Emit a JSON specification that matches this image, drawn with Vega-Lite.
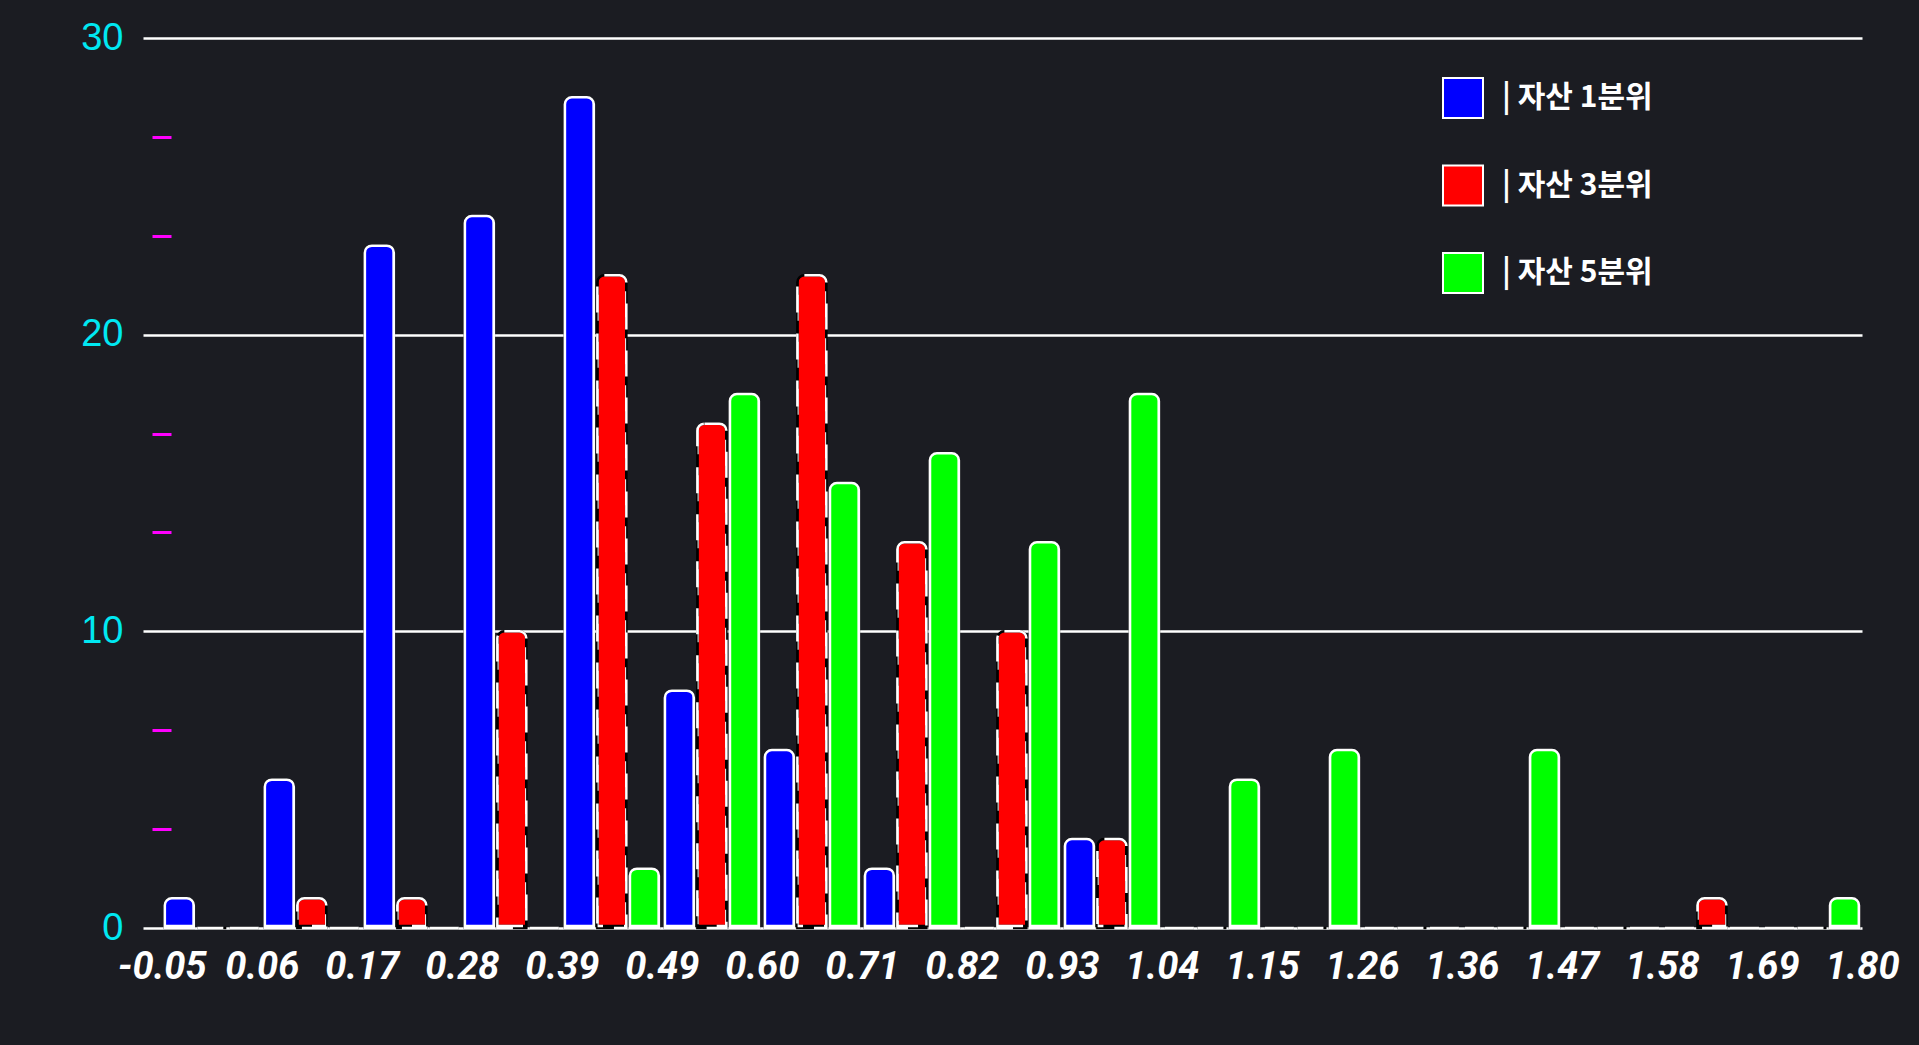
{
  "$schema": "https://vega.github.io/schema/vega-lite/v6.json",
  "width": 1719,
  "height": 890,
  "autosize": {"type": "none"},
  "padding": {"left": 143, "top": 38, "right": 57, "bottom": 117},
  "background": "#1b1c22",
  "config": {
    "view": {"stroke": null},
    "legend": {
      "labelFont": "Noto Sans CJK KR",
      "labelFontSize": 30,
      "labelFontWeight": "bold",
      "labelColor": "white",
      "symbolType": "square",
      "symbolSize": 1600,
      "symbolStrokeColor": "white",
      "symbolStrokeWidth": 2,
      "symbolOpacity": 1,
      "rowPadding": 39.5,
      "labelOffset": 18,
      "padding": 0
    }
  },
  "data": {
    "values": [
      {"edge": -0.05, "series": "| 자산 1분위", "count": 1},
      {"edge": -0.05, "series": "| 자산 3분위", "count": 0},
      {"edge": -0.05, "series": "| 자산 5분위", "count": 0},
      {"edge": 0.0588, "series": "| 자산 1분위", "count": 5},
      {"edge": 0.0588, "series": "| 자산 3분위", "count": 1},
      {"edge": 0.0588, "series": "| 자산 5분위", "count": 0},
      {"edge": 0.1676, "series": "| 자산 1분위", "count": 23},
      {"edge": 0.1676, "series": "| 자산 3분위", "count": 1},
      {"edge": 0.1676, "series": "| 자산 5분위", "count": 0},
      {"edge": 0.2765, "series": "| 자산 1분위", "count": 24},
      {"edge": 0.2765, "series": "| 자산 3분위", "count": 10},
      {"edge": 0.2765, "series": "| 자산 5분위", "count": 0},
      {"edge": 0.3853, "series": "| 자산 1분위", "count": 28},
      {"edge": 0.3853, "series": "| 자산 3분위", "count": 22},
      {"edge": 0.3853, "series": "| 자산 5분위", "count": 2},
      {"edge": 0.4941, "series": "| 자산 1분위", "count": 8},
      {"edge": 0.4941, "series": "| 자산 3분위", "count": 17},
      {"edge": 0.4941, "series": "| 자산 5분위", "count": 18},
      {"edge": 0.6029, "series": "| 자산 1분위", "count": 6},
      {"edge": 0.6029, "series": "| 자산 3분위", "count": 22},
      {"edge": 0.6029, "series": "| 자산 5분위", "count": 15},
      {"edge": 0.7118, "series": "| 자산 1분위", "count": 2},
      {"edge": 0.7118, "series": "| 자산 3분위", "count": 13},
      {"edge": 0.7118, "series": "| 자산 5분위", "count": 16},
      {"edge": 0.8206, "series": "| 자산 1분위", "count": 0},
      {"edge": 0.8206, "series": "| 자산 3분위", "count": 10},
      {"edge": 0.8206, "series": "| 자산 5분위", "count": 13},
      {"edge": 0.9294, "series": "| 자산 1분위", "count": 3},
      {"edge": 0.9294, "series": "| 자산 3분위", "count": 3},
      {"edge": 0.9294, "series": "| 자산 5분위", "count": 18},
      {"edge": 1.0382, "series": "| 자산 1분위", "count": 0},
      {"edge": 1.0382, "series": "| 자산 3분위", "count": 0},
      {"edge": 1.0382, "series": "| 자산 5분위", "count": 5},
      {"edge": 1.1471, "series": "| 자산 1분위", "count": 0},
      {"edge": 1.1471, "series": "| 자산 3분위", "count": 0},
      {"edge": 1.1471, "series": "| 자산 5분위", "count": 6},
      {"edge": 1.2559, "series": "| 자산 1분위", "count": 0},
      {"edge": 1.2559, "series": "| 자산 3분위", "count": 0},
      {"edge": 1.2559, "series": "| 자산 5분위", "count": 0},
      {"edge": 1.3647, "series": "| 자산 1분위", "count": 0},
      {"edge": 1.3647, "series": "| 자산 3분위", "count": 0},
      {"edge": 1.3647, "series": "| 자산 5분위", "count": 6},
      {"edge": 1.4735, "series": "| 자산 1분위", "count": 0},
      {"edge": 1.4735, "series": "| 자산 3분위", "count": 0},
      {"edge": 1.4735, "series": "| 자산 5분위", "count": 0},
      {"edge": 1.5824, "series": "| 자산 1분위", "count": 0},
      {"edge": 1.5824, "series": "| 자산 3분위", "count": 1},
      {"edge": 1.5824, "series": "| 자산 5분위", "count": 0},
      {"edge": 1.6912, "series": "| 자산 1분위", "count": 0},
      {"edge": 1.6912, "series": "| 자산 3분위", "count": 0},
      {"edge": 1.6912, "series": "| 자산 5분위", "count": 1}
    ]
  },
  "layer": [
    {
      "mark": {"type": "point", "opacity": 0},
      "encoding": {
        "x": {"field": "edge", "type": "quantitative",
              "scale": {"domain": [-0.0705, 1.8], "nice": false, "zero": false},
              "axis": {"values": [-0.05, 0.0588, 0.1676, 0.2765, 0.3853, 0.4941, 0.6029, 0.7118, 0.8206, 0.9294, 1.0382, 1.1471, 1.2559, 1.3647, 1.4735, 1.5824, 1.6912, 1.8],
                       "labelExpr": "replace(format(datum.value, '.2f'), '\u2212', '-')",
                       "labelFont": "Roboto", "labelFontSize": 38, "labelFontWeight": "bold", "labelFontStyle": "italic",
                       "labelColor": "white", "domain": false, "ticks": false, "grid": false, "labelPadding": 20,
                       "labelFlush": false, "labelOverlap": false, "title": null}},
        "y": {"field": "count", "type": "quantitative", "scale": {"domain": [0, 30], "nice": false},
              "axis": {"orient": "left", "values": [0, 10, 20, 30], "grid": true, "gridColor": "white", "gridWidth": 2.5,
                       "domain": false, "ticks": false, "labelColor": "#00e8f2", "labelFont": "Liberation Sans",
                       "labelFontSize": 38, "labelPadding": 20, "labelFlush": false, "title": null}}
      }
    },
    {
      "mark": {"type": "bar", "stroke": "black", "strokeWidth": 2.5, "yOffset": -2, "cornerRadiusTopLeft": 7, "cornerRadiusTopRight": 7},
      "encoding": {
        "x": {"field": "edge", "type": "ordinal", "axis": null,
              "scale": {"type": "band", "range": [18.8, 1719], "paddingInner": 0.06, "paddingOuter": 0.03}},
        "xOffset": {"field": "series", "type": "nominal",
                    "scale": {"domain": ["| 자산 1분위", "| 자산 3분위", "| 자산 5분위"], "paddingInner": 0.108}},
        "y": {"field": "count", "type": "quantitative",
              "scale": {"domain": [0, 30], "nice": false},
              "axis": {"orient": "left", "values": [3.3333, 6.6667, 13.3333, 16.6667, 23.3333, 26.6667],
                       "labels": false, "domain": false, "grid": false, "ticks": true, "tickColor": "#ff00ff",
                       "tickWidth": 3, "tickSize": 19, "offset": -28, "title": null}},
        "color": {"field": "series", "type": "nominal",
                  "scale": {"domain": ["| 자산 1분위", "| 자산 3분위", "| 자산 5분위"], "range": ["#0000ff", "#ff0000", "#00ff00"]},
                  "legend": {"orient": "none", "direction": "vertical", "legendX": 1299, "legendY": 39, "title": null,
                             "symbolStrokeColor": "white", "symbolStrokeWidth": 2}}
      }
    },
    {
      "transform": [{"filter": "datum.series !== '| 자산 3분위'"}],
      "mark": {"type": "bar", "stroke": "white", "strokeWidth": 2.5, "yOffset": -2, "cornerRadiusTopLeft": 7, "cornerRadiusTopRight": 7},
      "encoding": {
        "x": {"field": "edge", "type": "ordinal", "axis": null,
              "scale": {"type": "band", "range": [18.8, 1719], "paddingInner": 0.06, "paddingOuter": 0.03}},
        "xOffset": {"field": "series", "type": "nominal",
                    "scale": {"domain": ["| 자산 1분위", "| 자산 3분위", "| 자산 5분위"], "paddingInner": 0.108}},
        "y": {"field": "count", "type": "quantitative", "scale": {"domain": [0, 30], "nice": false}, "axis": null},
        "color": {"field": "series", "type": "nominal",
                  "scale": {"domain": ["| 자산 1분위", "| 자산 3분위", "| 자산 5분위"], "range": ["#0000ff", "#ff0000", "#00ff00"]},
                  "legend": {"orient": "none", "direction": "vertical", "legendX": 1299, "legendY": 39, "title": null,
                             "symbolStrokeColor": "white", "symbolStrokeWidth": 2}}
      }
    },
    {
      "transform": [{"filter": "datum.series === '| 자산 3분위'"}],
      "mark": {"type": "bar", "fill": "transparent", "stroke": "white", "strokeWidth": 2.5, "strokeDash": [26, 21], "yOffset": -2, "cornerRadiusTopLeft": 7, "cornerRadiusTopRight": 7},
      "encoding": {
        "x": {"field": "edge", "type": "ordinal", "axis": null,
              "scale": {"type": "band", "range": [18.8, 1719], "paddingInner": 0.06, "paddingOuter": 0.03}},
        "xOffset": {"field": "series", "type": "nominal",
                    "scale": {"domain": ["| 자산 1분위", "| 자산 3분위", "| 자산 5분위"], "paddingInner": 0.108}},
        "y": {"field": "count", "type": "quantitative", "scale": {"domain": [0, 30], "nice": false}, "axis": null}
      }
    }
  ],
  "resolve": {"scale": {"x": "independent"}, "axis": {"x": "independent", "y": "independent"}}
}
